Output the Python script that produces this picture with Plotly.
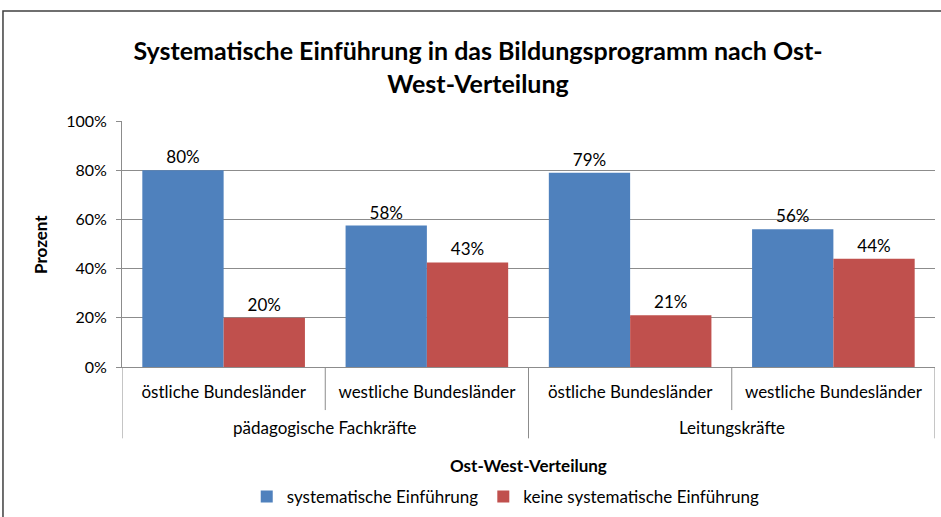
import plotly.graph_objects as go

# Data
gruppen = ["pädagogische Fachkräfte", "Leitungskräfte"]
regionen = ["östliche Bundesländer", "westliche Bundesländer", "östliche Bundesländer", "westliche Bundesländer"]
systematisch = [0.80, 0.575, 0.79, 0.56]
keine = [0.20, 0.425, 0.21, 0.44]
labels_sys = ["80%", "58%", "79%", "56%"]
labels_keine = ["20%", "43%", "21%", "44%"]

FONT = "Lato, Calibri, Arial, sans-serif"
BLUE = "#4F81BD"
RED = "#C0504D"
GRID = "#8C8C8C"

pos = list(range(len(regionen)))

fig = go.Figure()
fig.add_trace(go.Bar(
    x=pos, y=systematisch, name="systematische Einführung",
    marker_color=BLUE, marker_line_width=0, text=labels_sys, textposition="outside",
    textfont=dict(size=17, color="black"), cliponaxis=False
))
fig.add_trace(go.Bar(
    x=pos, y=keine, name="keine systematische Einführung",
    marker_color=RED, marker_line_width=0, text=labels_keine, textposition="outside",
    textfont=dict(size=17, color="black"), cliponaxis=False
))

# category dividers below the axis (two-level category axis, Excel style)
per_group = len(regionen) // len(gruppen)
for i in range(len(regionen) + 1):
    outer = i % per_group == 0
    fig.add_shape(type="line", xref="x", yref="paper",
                  x0=i - 0.5, x1=i - 0.5, y0=0, y1=-0.29 if outer else -0.175,
                  line=dict(color=GRID, width=1))
for g, name in enumerate(gruppen):
    fig.add_annotation(x=g * per_group + (per_group - 1) / 2, xref="x",
                       y=-0.244, yref="paper", text=name, showarrow=False,
                       font=dict(size=17), yanchor="middle")

# axis titles
fig.add_annotation(x=0.5, xref="paper", y=-0.402, yref="paper",
                   text="<b>Ost-West-Verteilung</b>", showarrow=False,
                   font=dict(size=17), yanchor="middle")
fig.add_annotation(x=-0.1009, xref="paper", y=0.5, yref="paper",
                   text="<b>Prozent</b>", showarrow=False, textangle=-90,
                   font=dict(size=17), xanchor="center", yanchor="middle")

# outer frame of the chart area
fig.add_shape(type="rect", xref="paper", yref="paper",
              x0=-0.1464, x1=1.03, y0=-0.7, y1=1.447,
              line=dict(color="#404040", width=1.5), fillcolor="rgba(0,0,0,0)")

fig.update_layout(
    width=941, height=517,
    margin=dict(l=122, r=6, t=121, b=150, autoexpand=False),
    paper_bgcolor="white", plot_bgcolor="white",
    font=dict(family=FONT, size=16, color="black"),
    title=dict(text="<b>Systematische Einführung in das Bildungsprogramm nach Ost-<br>West-Verteilung</b>",
               x=0.508, xanchor="center", y=0.8835, yanchor="middle",
               font=dict(size=25, family=FONT)),
    barmode="group", bargap=0.2, bargroupgap=0,
    legend=dict(orientation="h", x=0.472, xanchor="center", y=-0.528, yanchor="middle",
                font=dict(size=17), itemwidth=30),
    showlegend=True,
)
fig.update_yaxes(range=[0, 1], dtick=0.2, tickformat=".0%", automargin=False,
                 tickfont=dict(size=16),
                 showgrid=True, gridcolor=GRID, gridwidth=1,
                 showline=True, linecolor=GRID, ticks="outside",
                 ticklen=5, tickcolor=GRID, zeroline=False, ticklabelstandoff=6)
fig.update_xaxes(range=[-0.5, len(regionen) - 0.5], tickvals=pos, ticktext=regionen,
                 tickfont=dict(size=17),
                 automargin=False, showline=True, linecolor=GRID, ticks="",
                 showgrid=False, zeroline=False, ticklabelstandoff=10)

fig.write_html("out.html", config={"displayModeBar": False},
               post_script="document.body.style.margin='0';")
